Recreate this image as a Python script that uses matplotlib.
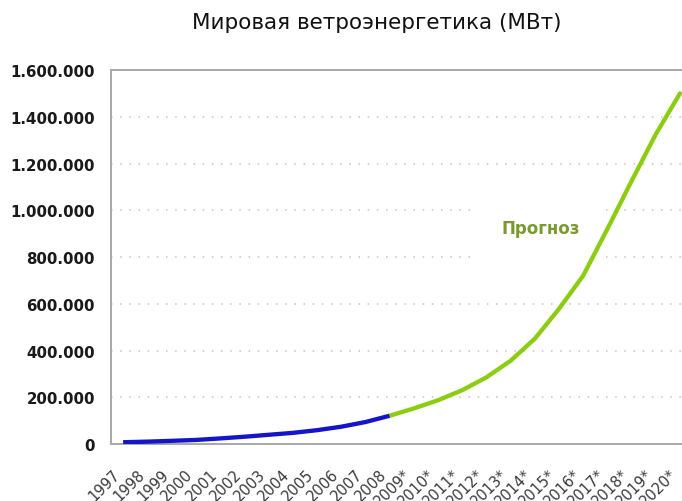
import matplotlib
matplotlib.use("Agg")
import matplotlib.pyplot as plt
from matplotlib.ticker import FuncFormatter, MultipleLocator

plt.rcParams['font.family'] = ['DejaVu Sans']

# Installed wind power capacity, world total (MW)
years = ["1997", "1998", "1999", "2000", "2001", "2002", "2003", "2004",
         "2005", "2006", "2007", "2008", "2009*", "2010*", "2011*", "2012*",
         "2013*", "2014*", "2015*", "2016*", "2017*", "2018*", "2019*", "2020*"]
actual_mw = [7600, 10200, 13600, 17400, 23900, 31100, 39431, 47620,
             59091, 73904, 93849, 120791]
forecast_mw = [120791, 152000, 187000, 230000, 285000, 356000, 450000,
               578000, 720000, 920000, 1125000, 1325000, 1500000]

title = "Мировая ветроэнергетика (МВт)"
forecast_label = "Прогноз"

fig = plt.figure(figsize=(6.82, 5.02), dpi=100)
ax = fig.add_axes([0.1628, 0.1135, 0.852, 0.745])

x_actual = list(range(len(actual_mw)))
x_forecast = list(range(len(actual_mw) - 1, len(actual_mw) - 1 + len(forecast_mw)))

ax.plot(x_forecast, forecast_mw, color="#8ccc12", lw=3.1,
        solid_capstyle="round", solid_joinstyle="round", zorder=4)
ax.plot(x_actual, actual_mw, color="#1414c8", lw=3.1,
        solid_capstyle="butt", solid_joinstyle="round", zorder=5)

ax.set_xlim(-0.5, len(years) - 0.5)
ax.set_ylim(0, 1600000)
ax.yaxis.set_major_locator(MultipleLocator(200000))
ax.yaxis.set_major_formatter(FuncFormatter(lambda v, p: f"{int(v):,}".replace(",", ".")))
ax.set_xticks(range(len(years)))
ax.set_xticklabels(years, rotation=45, ha="right", va="top",
                   rotation_mode="default", fontsize=10.5, color="#3a3a3a")

ax.tick_params(axis="y", length=0, pad=11.5, labelsize=10.8, labelcolor="#1a1a1a")
for lab in ax.get_yticklabels():
    lab.set_fontweight("bold")
ax.tick_params(axis="x", length=0, pad=16)

ax.yaxis.grid(True, color="#c4c4c4", linestyle=(0, (1, 5)), lw=1.1, zorder=1)
ax.set_axisbelow(True)

for side in ("left", "bottom", "top", "right"):
    ax.spines[side].set_color("#a8a8a8")
    ax.spines[side].set_linewidth(1.4)

ax.text(17.25, 925000, forecast_label, color="#7a9a30", fontsize=12,
        fontweight="bold", ha="center", va="center", zorder=3,
        bbox=dict(facecolor="white", edgecolor="none", boxstyle="square,pad=1.5"))

fig.text(0.553, 0.954, title, ha="center", va="center", fontsize=15.5,
         color="#111111")

fig.savefig("out.png", dpi=100, facecolor="white")
